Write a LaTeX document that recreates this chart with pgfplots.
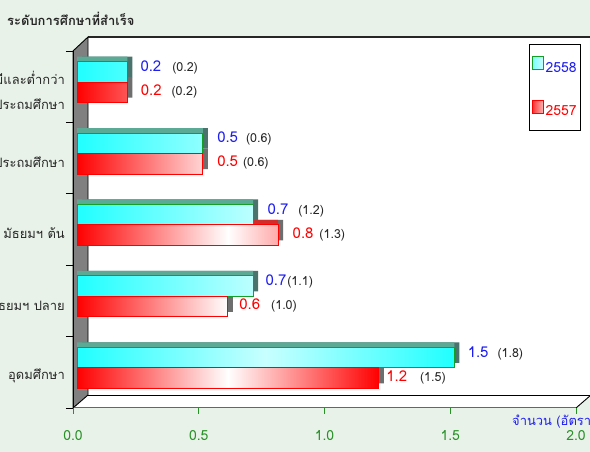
\documentclass[border=0pt]{standalone}
\usepackage{fontspec}
\usepackage{pgfplots}
\usepackage{pgfplotstable}
\pgfplotsset{compat=1.18}
\setmainfont{Liberation Sans}
\newfontfamily\thaifont[Script=Thai]{Loma}
\definecolor{bg}{RGB}{233,242,233}
\definecolor{wallgray}{RGB}{128,128,128}
\definecolor{axgreen}{RGB}{40,145,40}
\definecolor{cyanface}{RGB}{32,255,255}
\definecolor{cyanlight}{RGB}{200,255,255}
\definecolor{cyanedge}{RGB}{20,160,40}
\definecolor{cyantop}{RGB}{90,170,150}
\definecolor{cyanside}{RGB}{75,115,110}
\definecolor{redface}{RGB}{255,0,0}
\definecolor{redtop}{RGB}{210,45,45}
\definecolor{redside}{RGB}{110,110,110}
\definecolor{lblblue}{RGB}{30,30,240}

\pgfplotstableread{
y v p o g
4 0.2 0.2 12.7 11
3 0.5 0.6 14 8
2 0.7 1.2 14 10
1 0.7 1.1 12 1
0 1.5 1.8 13 9
}\tblA
\pgfplotstableread{
y v p o g
4 0.2 0.2 13 10
3 0.5 0.6 14 5
2 0.8 1.3 14 6
1 0.6 1.0 11 11
0 1.2 1.5 7 13
}\tblB

\begin{document}
\begin{tikzpicture}[x=1bp,y=1bp]
\fill[bg] (0,0) rectangle (590,452);
% back plane
\fill[white] (88,57) rectangle (592,415);
\draw[black!85, line width=1.2bp] (88,415) -- (592,415);
% floor
\fill[white] (73,44) -- (576,44) -- (591,57) -- (88,57) -- cycle;
\draw[black, line width=0.9bp] (88,57) -- (592,57);
\draw[black, line width=0.9bp] (576,44) -- (591,57);
% left wall
\filldraw[fill=wallgray, draw=black, line width=0.9bp] (73,44) -- (73,401) -- (88,415) -- (88,57) -- cycle;
% title
\node[anchor=west, inner sep=0pt, font=\thaifont\bfseries\fontsize{13}{15}\selectfont, text=black!85] at (7,433) {ระดับการศึกษาที่สำเร็จ};
% x axis label
\node[anchor=west, inner sep=0pt, font=\thaifont\fontsize{13}{15}\selectfont, text=lblblue] at (512,30) {จำนวน (อัตรา)};

\begin{axis}[
  at={(73bp,44bp)}, anchor=south west,
  scale only axis, width=503bp, height=357bp,
  xmin=0, xmax=2, ymin=-0.5, ymax=4.5,
  enlargelimits=false, clip=false,
  axis x line*=bottom, axis y line*=left,
  x axis line style={draw=axgreen, line width=1bp},
  y axis line style={draw=black, line width=1bp},
  tick align=outside,
  major tick length=6bp, minor tick length=7bp,
  xtick={0,0.5,1,1.5,2},
  x tick style={draw=axgreen, line width=1bp},
  xticklabel={\pgfmathprintnumber[fixed,fixed zerofill,precision=1,assume math mode=true]{\tick}},
  xticklabel style={text=axgreen, font=\thaifont\fontsize{14}{16}\selectfont, yshift=-13bp},
  ytick={0,1,2,3,4},
  y tick style={draw=none},
  minor ytick={-0.5,0.5,1.5,2.5,3.5,4.5},
  minor y tick style={draw=black, line width=0.8bp},
  yticklabels={อุดมศึกษา, มัธยมฯ ปลาย, มัธยมฯ ต้น, ประถมศึกษา, {ไม่มีและต่ำกว่า\\ประถมศึกษา}},
  yticklabel style={align=right, inner sep=0pt, xshift=-2bp, yshift=-4bp, text=black!85, font=\thaifont\fontsize{13}{25}\selectfont},
  xbar, bar width=20.5bp,
  legend style={at={(1.0099,1.0196)}, anchor=north east, draw=black, line width=0.8bp, fill=white,
    inner xsep=2bp, inner ysep=12bp, row sep=24bp, font=\thaifont\fontsize{14}{16}\selectfont},
  legend cell align=left,
]
% red 3D faces
\addplot[xbar, bar shift=-10.25bp, xshift=9bp, yshift=9.5bp, fill=redside, draw=none, forget plot] table[x=v,y=y]{\tblB};
\addplot[xbar, bar shift=-10.25bp, xshift=4bp, yshift=9.5bp, fill=redtop, draw=none, forget plot] table[x=v,y=y]{\tblB};
% cyan 3D faces
\addplot[xbar, bar shift=10.25bp, xshift=9bp, yshift=9.5bp, fill=cyanside, draw=none, forget plot] table[x=v,y=y]{\tblA};
\addplot[xbar, bar shift=10.25bp, xshift=4bp, yshift=9.5bp, fill=cyantop, draw=none, forget plot] table[x=v,y=y]{\tblA};
% cyan front
\addplot[xbar, bar shift=10.25bp, xshift=4bp, yshift=4.5bp, draw=cyanedge, line width=1bp,
  left color=cyanface, right color=cyanface, middle color=cyanlight,
  point meta=x,
  visualization depends on={\thisrow{p}\as\pv},
  visualization depends on={\thisrow{o}\as\off},
  visualization depends on={\thisrow{g}\as\gap},
  nodes near coords={\thaifont\hspace*{\off bp}{\color{lblblue}\fontsize{15}{17}\selectfont\pgfmathprintnumber[fixed,fixed zerofill,precision=1,assume math mode=true]{\pgfplotspointmeta}}\hspace*{\gap bp}{\color{black!85}\fontsize{12.5}{14}\selectfont(\pgfmathprintnumber[fixed,fixed zerofill,precision=1,assume math mode=true]{\pv})}},
  every node near coord/.append style={anchor=west, inner sep=0pt, yshift=4.5bp},
  legend image code/.code={\draw[draw=cyanedge, line width=1bp, left color=cyanface!60!white, right color=cyanlight] (0bp,-6.5bp) rectangle (11bp,6.5bp);},
] table[x=v,y=y]{\tblA};
\addlegendentry{\textcolor{lblblue}{2558}}
% red front
\addplot[xbar, bar shift=-10.25bp, xshift=4bp, yshift=4.5bp, draw=redface, line width=1bp,
  left color=redface, right color=redface, middle color=white,
  point meta=x,
  visualization depends on={\thisrow{p}\as\pv},
  visualization depends on={\thisrow{o}\as\off},
  visualization depends on={\thisrow{g}\as\gap},
  nodes near coords={\thaifont\hspace*{\off bp}{\color{red}\fontsize{15}{17}\selectfont\pgfmathprintnumber[fixed,fixed zerofill,precision=1,assume math mode=true]{\pgfplotspointmeta}}\hspace*{\gap bp}{\color{black!85}\fontsize{12.5}{14}\selectfont(\pgfmathprintnumber[fixed,fixed zerofill,precision=1,assume math mode=true]{\pv})}},
  every node near coord/.append style={anchor=west, inner sep=0pt, yshift=1bp},
  legend image code/.code={\draw[draw=redface, line width=1bp, left color=redface!80, middle color=white, right color=redface!30] (0bp,-6.5bp) rectangle (11bp,6.5bp);},
] table[x=v,y=y]{\tblB};
\addlegendentry{\textcolor{red}{2557}}
\end{axis}
\pgfresetboundingbox
\useasboundingbox (0,0) rectangle (590,452);
\end{tikzpicture}
\end{document}
